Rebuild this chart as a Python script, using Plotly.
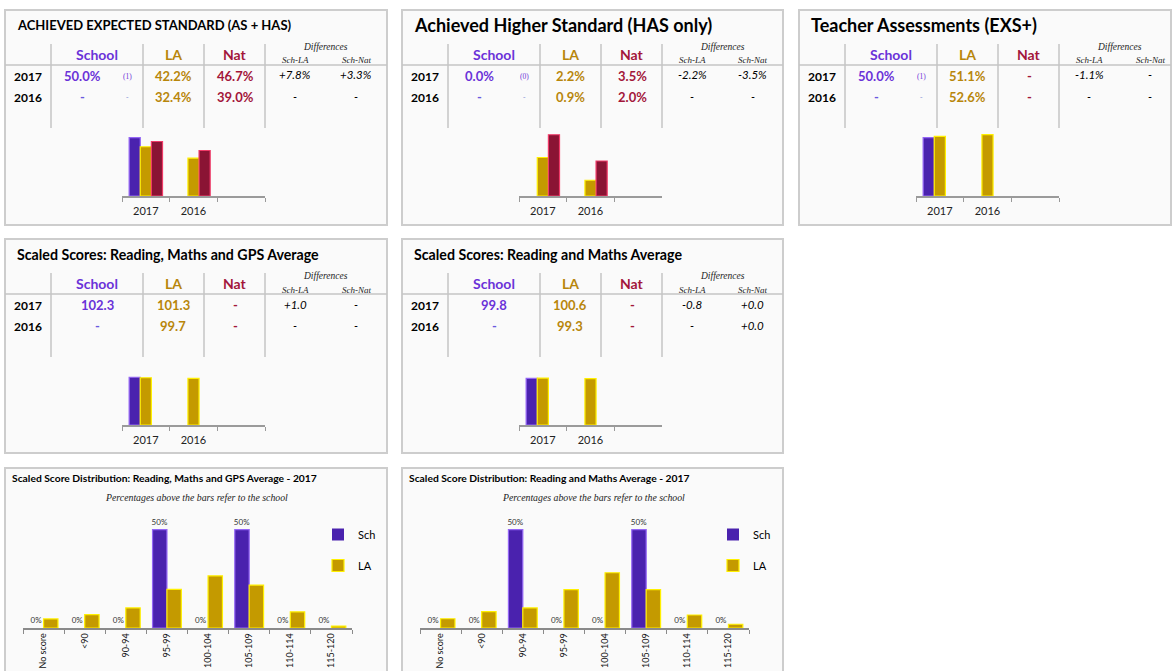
import plotly.graph_objects as go

W, H = 1173, 671

# ---------------- data ----------------
YEARS = ["2017", "2016"]
PANEL_TITLES = [
    "ACHIEVED EXPECTED STANDARD (AS + HAS)",
    "Achieved Higher Standard (HAS only)",
    "Teacher Assessments (EXS+)",
    "Scaled Scores: Reading, Maths and GPS Average",
    "Scaled Scores: Reading and Maths Average",
]
SCHOOL = [[50.0, None], [0.0, None], [50.0, None], [102.3, None], [99.8, None]]
LA = [[42.2, 32.4], [2.2, 0.9], [51.1, 52.6], [101.3, 99.7], [100.6, 99.3]]
NAT = [[46.7, 39.0], [3.5, 2.0], [None, None], [None, None], [None, None]]
PUPILS = [1, 0, 1, None, None]
VALUE_SUFFIX = ["%", "%", "%", "", ""]
DIFF_SCH_LA = [["+7.8%", "-"], ["-2.2%", "-"], ["-1.1%", "-"], ["+1.0", "-"], ["-0.8", "-"]]
DIFF_SCH_NAT = [["+3.3%", "-"], ["-3.5%", "-"], ["-", "-"], ["-", "-"], ["+0.0", "+0.0"]]

DIST_TITLES = [
    "Scaled Score Distribution: Reading, Maths and GPS Average - 2017",
    "Scaled Score Distribution: Reading and Maths Average - 2017",
]
DIST_SUBTITLE = "Percentages above the bars refer to the school"
BANDS = ["No score", "<90", "90-94", "95-99", "100-104", "105-109", "110-114", "115-120"]
DIST_SCH = [[0, 0, 0, 50, 0, 50, 0, 0], [0, 0, 50, 0, 0, 50, 0, 0]]
DIST_LA = [[4.6, 6.8, 10.2, 19.6, 26.5, 21.8, 8.2, 1.0],
           [4.7, 8.3, 10.2, 19.5, 28.1, 19.5, 6.6, 1.9]]

# ---------------- style ----------------
FONT = "Lato"
SERIF = "Liberation Serif"
C_SCH, C_LA, C_NAT = "#6A32D8", "#B8860B", "#A3163A"
BAR_SCH = dict(color="#4A22AE", line="#9466F5")
BAR_LA = dict(color="#C49A00", line="#FFF000")
BAR_NAT = dict(color="#8A1434", line="#F03A68")
GRID = "#c4c4c4"
TOP_PANELS = [(5, 10, 382, 215), (402, 10, 381, 215), (799, 10, 372, 215),
              (5, 239, 382, 214), (402, 239, 381, 214)]
TITLE_SIZES = [13, 18, 18, 14.2, 14.2]
YMAX = [60, 4, 60, 150, 150]
BOT_PANELS = [(5, 468, 382, 240), (402, 468, 381, 240)]

fig = go.Figure()
shapes, annotations, layout_axes = [], [], {}


def pxx(x):
    return x / W


def pyy(y):
    return 1 - y / H


def text(x, y, s, size, color="#000", weight="normal", style="normal",
         family=FONT, xanchor="center"):
    annotations.append(dict(
        x=pxx(x), y=pyy(y), xref="paper", yref="paper", text=s, showarrow=False,
        xanchor=xanchor, yanchor="middle",
        font=dict(family=family, size=size, color=color, weight=weight, style=style)))


def line(x0, y0, x1, y1, color=GRID, width=1.5):
    shapes.append(dict(type="line", xref="paper", yref="paper",
                       x0=pxx(x0), y0=pyy(y0), x1=pxx(x1), y1=pyy(y1),
                       line=dict(color=color, width=width), layer="below"))


def panel(ox, oy, w, h):
    shapes.append(dict(type="rect", xref="paper", yref="paper",
                       x0=pxx(ox), y0=pyy(oy + h), x1=pxx(ox + w), y1=pyy(oy),
                       fillcolor="#fafafa", line=dict(color="#cdcdcd", width=2),
                       layer="below"))


def fmt(v, suf):
    return "-" if v is None else f"{v:.1f}{suf}"


def widths(vals):
    return [0 if (v is None or v == 0) else 1.2 for v in vals]


axis_idx = 0
for i, (ox, oy, w, h) in enumerate(TOP_PANELS):
    panel(ox, oy, w, h)
    text(ox + 10, oy + 15, PANEL_TITLES[i], TITLE_SIZES[i], "#000", "bold", xanchor="left")
    for vx in (46, 138, 199, 260):
        line(ox + vx, oy + 34, ox + vx, oy + 118)
    line(ox, oy + 55, ox + w, oy + 55)
    # header
    text(ox + 92, oy + 44, "School", 14, C_SCH, "bold")
    text(ox + 168, oy + 44, "LA", 14, C_LA, "bold")
    text(ox + 230, oy + 44, "Nat", 14, C_NAT, "bold")
    text(ox + 320, oy + 37, "Differences", 9.5, "#222", style="italic", family=SERIF)
    text(ox + 290, oy + 50.5, "Sch-LA", 9, "#222", style="italic", family=SERIF)
    text(ox + 351, oy + 50.5, "Sch-Nat", 9, "#222", style="italic", family=SERIF)
    suf = VALUE_SUFFIX[i]
    for r, yr in enumerate(YEARS):
        ry = oy + 66 + r * 21
        text(ox + 23, ry, yr, 12, "#000", "bold")
        sv = SCHOOL[i][r]
        if PUPILS[i] is not None:
            text(ox + 77, ry, fmt(sv, suf), 13, C_SCH if sv is not None else "#6a5ae0", "bold")
            ptxt = f"({PUPILS[i]})" if sv is not None else "-"
            text(ox + 122, ry, ptxt, 7.5, "#6a32d8" if sv is not None else "#8a96d8",
                 family=SERIF)
        else:
            text(ox + 92, ry, fmt(sv, suf), 13, C_SCH if sv is not None else "#6a5ae0", "bold")
        text(ox + 168, ry, fmt(LA[i][r], suf), 13, C_LA, "bold")
        text(ox + 230, ry, fmt(NAT[i][r], suf), 13, C_NAT, "bold")
        text(ox + 290, ry - 1, DIFF_SCH_LA[i][r], 11.5, "#000", style="italic")
        text(ox + 351, ry - 1, DIFF_SCH_NAT[i][r], 11.5, "#000", style="italic")

    # small bar chart
    axis_idx += 1
    s = "" if axis_idx == 1 else str(axis_idx)
    layout_axes[f"xaxis{s}"] = dict(
        domain=[pxx(ox + 117), pxx(ox + 260)], anchor=f"y{s}", type="category",
        categoryorder="array", categoryarray=YEARS + [" "], range=[-0.5, 2.5],
        showline=True, linecolor="#9a9a9a", linewidth=1.5, ticks="outside",
        tickson="boundaries", ticklen=4, tickcolor="#9a9a9a", showgrid=False,
        ticklabelstandoff=4,
        zeroline=False, tickfont=dict(family=FONT, size=11, color="#222"), fixedrange=True)
    layout_axes[f"yaxis{s}"] = dict(
        domain=[pyy(oy + 186), pyy(oy + 116)], anchor=f"x{s}", range=[0, YMAX[i]],
        visible=False, fixedrange=True)
    for vals, st in ((SCHOOL[i], BAR_SCH), (LA[i], BAR_LA), (NAT[i], BAR_NAT)):
        fig.add_trace(go.Bar(
            x=YEARS, y=vals, xaxis=f"x{s}", yaxis=f"y{s}", showlegend=False,
            marker=dict(color=st["color"], line=dict(color=st["line"], width=widths(vals))),
            hoverinfo="skip"))

# ---------------- distribution charts ----------------
for j, (ox, oy, w, h) in enumerate(BOT_PANELS):
    panel(ox, oy, w, h)
    text(ox + 5, oy + 10, DIST_TITLES[j], 10.3, "#000", "bold", xanchor="left")
    text(ox + 191, oy + 30, DIST_SUBTITLE, 9.8, "#222", style="italic", family=SERIF)
    axis_idx += 1
    s = str(axis_idx)
    layout_axes[f"xaxis{s}"] = dict(
        domain=[pxx(ox + 18), pxx(ox + 347)], anchor=f"y{s}", type="category",
        categoryorder="array", categoryarray=BANDS, range=[-0.5, len(BANDS) - 0.5],
        showline=True, linecolor="#8a8a8a", linewidth=1.5, ticks="outside",
        tickson="boundaries", ticklen=4, tickcolor="#8a8a8a", tickangle=-90,
        showgrid=False, zeroline=False,
        tickfont=dict(family=FONT, size=9, color="#111"), fixedrange=True)
    layout_axes[f"yaxis{s}"] = dict(
        domain=[pyy(oy + 160), pyy(oy + 42)], anchor=f"x{s}", range=[0, 60],
        visible=False, fixedrange=True)
    leg = "legend" if j == 0 else "legend2"
    fig.add_trace(go.Bar(
        x=BANDS, y=DIST_SCH[j], name="Sch", xaxis=f"x{s}", yaxis=f"y{s}",
        legend=leg, legendgroup=f"sch{j}",
        marker=dict(color=BAR_SCH["color"], line=dict(color=BAR_SCH["line"],
                                                     width=widths(DIST_SCH[j]))),
        text=[f"{v:.0f}%" for v in DIST_SCH[j]], textposition="outside",
        constraintext="none", cliponaxis=False,
        textfont=dict(family=FONT, size=8, color="#333"), hoverinfo="skip"))
    fig.add_trace(go.Bar(
        x=BANDS, y=DIST_LA[j], name="LA", xaxis=f"x{s}", yaxis=f"y{s}",
        legend=leg, legendgroup=f"la{j}",
        marker=dict(color=BAR_LA["color"], line=dict(color=BAR_LA["line"], width=1.2)),
        hoverinfo="skip"))

legend_common = dict(xanchor="left", yanchor="top", bgcolor="rgba(0,0,0,0)",
                     font=dict(family=FONT, size=11, color="#000"),
                     tracegroupgap=12, traceorder="grouped")

fig.update_layout(
    width=W, height=H, autosize=False,
    margin=dict(l=0, r=0, t=0, b=0),
    paper_bgcolor="#ffffff", plot_bgcolor="rgba(0,0,0,0)",
    barmode="group", bargap=0.3, bargroupgap=0,
    shapes=shapes, annotations=annotations,
    legend=dict(x=pxx(5 + 313), y=pyy(520), **legend_common),
    legend2=dict(x=pxx(402 + 311), y=pyy(520), **legend_common),
    font=dict(family=FONT),
    **layout_axes,
)

fig.write_html("out.html", config={"displayModeBar": False},
               post_script="document.body.style.margin='0px';")
